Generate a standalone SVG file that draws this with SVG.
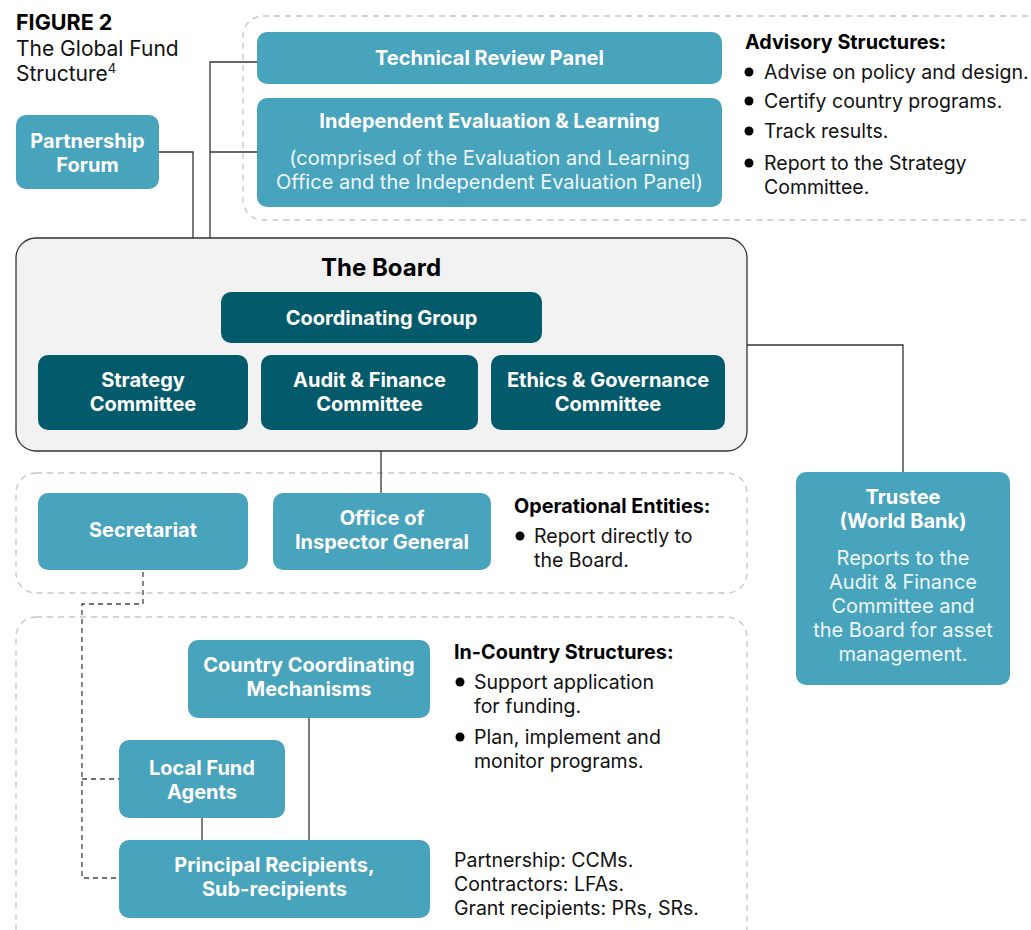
<svg xmlns="http://www.w3.org/2000/svg" width="1031" height="930" viewBox="0 0 1031 930">
<style>
text{font-family:Inter,"Noto Sans","Liberation Sans",sans-serif}
.lb{fill:#48a3bc}
.dk{fill:#035a6a}
.wt{fill:#ffffff;font-size:20px;font-weight:700;text-anchor:middle}
.ws{fill:#eef7f9;font-size:20px;font-weight:400;text-anchor:middle}
.hd{fill:#000;font-size:19.8px;font-weight:700}
.bd{fill:#111;font-size:19.5px;font-weight:400}
.dash{fill:none;stroke:#c6c6c6;stroke-width:1.3;stroke-dasharray:6 5}
.ln{fill:none;stroke:#333;stroke-width:1.3}
.dl{fill:none;stroke:#444;stroke-width:1.3;stroke-dasharray:5 4}
</style>
<rect width="1031" height="930" fill="#fff"/>
<g id="title">
<text x="16" y="30" style="font-size:21.5px;font-weight:700;fill:#000">FIGURE 2</text>
<text x="16" y="56" style="font-size:21px;fill:#111">The Global Fund</text>
<text x="16" y="81" style="font-size:21px;fill:#111">Structure<tspan dy="-8" style="font-size:13px">4</tspan></text>
</g>
<g id="groups">
<rect class="dash" x="243" y="16" width="820" height="204" rx="20"/>
<rect class="dash" x="16" y="473" width="731" height="120" rx="20"/>
<rect class="dash" x="16" y="617" width="731" height="340" rx="20"/>
</g>
<g id="connectors">
<polyline class="ln" points="159,152 193,152 193,238"/>
<polyline class="ln" points="257,62 210,62 210,238"/>
<line class="ln" x1="210" y1="152" x2="257" y2="152"/>
<polyline class="ln" points="747,345 903,345 903,472"/>
<line class="ln" x1="381" y1="451" x2="381" y2="493"/>
<line class="ln" x1="309" y1="718" x2="309" y2="840"/>
<line class="ln" x1="202" y1="818" x2="202" y2="840"/>
<polyline class="dl" points="143,572 143,604 82,604 82,878 119,878"/>
<line class="dl" x1="82" y1="779" x2="119" y2="779"/>
</g>
<g id="trp">
<rect class="lb" x="257" y="32" width="465" height="52" rx="10"/>
<text class="wt" x="489.5" y="65">Technical Review Panel</text>
</g>
<g id="iel">
<rect class="lb" x="257" y="98" width="465" height="109" rx="10"/>
<text class="wt" x="489.5" y="128">Independent Evaluation &amp; Learning</text>
<text class="ws" x="489.5" y="165">(comprised of the Evaluation and Learning</text>
<text class="ws" x="489.5" y="189">Office and the Independent Evaluation Panel)</text>
</g>
<g id="advisory">
<text class="hd" x="745" y="49">Advisory Structures:</text>
<circle cx="749" cy="72" r="4.5" fill="#000"/>
<text class="bd" x="764" y="79">Advise on policy and design.</text>
<circle cx="749" cy="101" r="4.5" fill="#000"/>
<text class="bd" x="764" y="108">Certify country programs.</text>
<circle cx="749" cy="131" r="4.5" fill="#000"/>
<text class="bd" x="764" y="138">Track results.</text>
<circle cx="749" cy="163" r="4.5" fill="#000"/>
<text class="bd" x="764" y="170">Report to the Strategy</text>
<text class="bd" x="764" y="194">Committee.</text>
</g>
<g id="partnership-forum">
<rect class="lb" x="16" y="115" width="143" height="74" rx="10"/>
<text class="wt" x="87.5" y="148">Partnership</text>
<text class="wt" x="87.5" y="172">Forum</text>
</g>
<g id="board">
<rect x="16" y="238" width="731" height="213" rx="20" fill="#f2f2f2" stroke="#333" stroke-width="1.3"/>
<text x="381" y="276" style="font-size:24px;font-weight:700;fill:#000;text-anchor:middle">The Board</text>
</g>
<g id="coordinating-group">
<rect class="dk" x="221" y="292" width="321" height="51" rx="10"/>
<text class="wt" x="381.5" y="325">Coordinating Group</text>
</g>
<g id="strategy-committee">
<rect class="dk" x="38" y="355" width="210" height="75" rx="10"/>
<text class="wt" x="143" y="387">Strategy</text>
<text class="wt" x="143" y="411">Committee</text>
</g>
<g id="audit-finance-committee">
<rect class="dk" x="261" y="355" width="217" height="75" rx="10"/>
<text class="wt" x="369.5" y="387">Audit &amp; Finance</text>
<text class="wt" x="369.5" y="411">Committee</text>
</g>
<g id="ethics-governance-committee">
<rect class="dk" x="491" y="355" width="234" height="75" rx="10"/>
<text class="wt" x="608" y="387">Ethics &amp; Governance</text>
<text class="wt" x="608" y="411">Committee</text>
</g>
<g id="trustee">
<rect class="lb" x="796" y="472" width="214" height="213" rx="10"/>
<text class="wt" x="903" y="504">Trustee</text>
<text class="wt" x="903" y="528">(World Bank)</text>
<text class="ws" x="903" y="565">Reports to the</text>
<text class="ws" x="903" y="589">Audit &amp; Finance</text>
<text class="ws" x="903" y="613">Committee and</text>
<text class="ws" x="903" y="637">the Board for asset</text>
<text class="ws" x="903" y="661">management.</text>
</g>
<g id="secretariat">
<rect class="lb" x="38" y="493" width="210" height="77" rx="10"/>
<text class="wt" x="143" y="537">Secretariat</text>
</g>
<g id="oig">
<rect class="lb" x="273" y="493" width="218" height="77" rx="10"/>
<text class="wt" x="382" y="525">Office of</text>
<text class="wt" x="382" y="549">Inspector General</text>
</g>
<g id="operational">
<text class="hd" x="514" y="513">Operational Entities:</text>
<circle cx="520" cy="536" r="4.5" fill="#000"/>
<text class="bd" x="534" y="543">Report directly to</text>
<text class="bd" x="534" y="567">the Board.</text>
</g>
<g id="ccm">
<rect class="lb" x="188" y="640" width="242" height="78" rx="10"/>
<text class="wt" x="309" y="672">Country Coordinating</text>
<text class="wt" x="309" y="696">Mechanisms</text>
</g>
<g id="lfa">
<rect class="lb" x="119" y="740" width="166" height="78" rx="10"/>
<text class="wt" x="202" y="775">Local Fund</text>
<text class="wt" x="202" y="799">Agents</text>
</g>
<g id="pr">
<rect class="lb" x="119" y="840" width="311" height="78" rx="10"/>
<text class="wt" x="274.5" y="872">Principal Recipients,</text>
<text class="wt" x="274.5" y="896">Sub-recipients</text>
</g>
<g id="in-country">
<text class="hd" x="454" y="659">In-Country Structures:</text>
<circle cx="460" cy="682" r="4.5" fill="#000"/>
<text class="bd" x="474" y="689">Support application</text>
<text class="bd" x="474" y="713">for funding.</text>
<circle cx="460" cy="737" r="4.5" fill="#000"/>
<text class="bd" x="474" y="744">Plan, implement and</text>
<text class="bd" x="474" y="768">monitor programs.</text>
<text class="bd" x="454" y="867">Partnership: CCMs.</text>
<text class="bd" x="454" y="891">Contractors: LFAs.</text>
<text class="bd" x="454" y="915">Grant recipients: PRs, SRs.</text>
</g>
</svg>
